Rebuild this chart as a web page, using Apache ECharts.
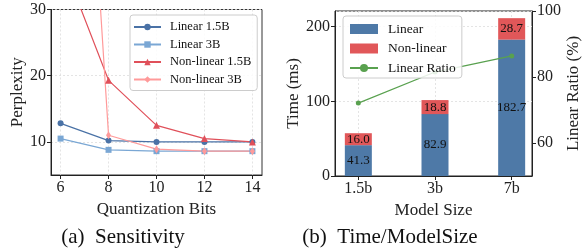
<!DOCTYPE html>
<html>
<head>
<meta charset="utf-8">
<script src="https://cdn.jsdelivr.net/npm/echarts@6/dist/echarts.min.js"></script>
<style>html,body{margin:0;padding:0;background:#fff}</style>
</head>
<body>
<div id="main" style="width:587px;height:252px"></div>
<script>
// (a) sensitivity
var bits = [6, 8, 10, 12, 14];
var linear15 = [12.8, 10.2, 10.0, 10.0, 10.0];
var linear3 = [10.5, 8.8, 8.6, 8.6, 8.6];
var nonlinear15 = [38.0, 19.3, 12.5, 10.5, 10.0];
var nonlinear3 = [125.0, 11.0, 8.9, 8.6, 8.6];
var pplTicks = [10, 20, 30];

// (b) time / model size
var sizes = ['1.5b', '3b', '7b'];
var linearTime = [41.3, 82.9, 182.7];
var nonlinearTime = [16.0, 18.8, 28.7];
var linearRatio = [72.1, 81.5, 86.4];
var ratioTicks = [60, 80, 100];

var serif = 'Liberation Serif';

function zip(xs, ys) {
    return ys.map(function (v, i) { return [xs[i], v]; });
}
var idx = sizes.map(function (s, i) { return i; });

var chartDom = document.getElementById('main');
var myChart = echarts.init(chartDom);

var axisCommon = {
    axisLine: { show: true, onZero: false, lineStyle: { color: '#222', width: 1 } },
    axisTick: { show: true, inside: false, length: 4, lineStyle: { color: '#222' } },
    axisLabel: { fontFamily: serif, fontSize: 16, color: '#222' },
    nameTextStyle: { fontFamily: serif, fontSize: 17, color: '#222' },
    splitLine: { show: true, lineStyle: { color: '#ddd', type: [2, 2], width: 0.8 } }
};
function ax(o) {
    return echarts.util.merge(echarts.util.clone(axisCommon), o, true);
}

var option = {
    animation: false,
    grid: [
        { left: 51, top: 9.5, width: 211, height: 165.5, show: true, borderColor: '#333', borderWidth: 1 },
        { left: 335, top: 11, width: 197, height: 165, show: true, borderColor: '#222', borderWidth: 1 },
        // hidden grid holding the stacked bars (category bands)
        { left: 320, top: 11, width: 230, height: 165 }
    ],
    xAxis: [
        ax({
            type: 'value', gridIndex: 0, min: 5.6, max: 14.4,
            name: 'Quantization Bits', nameLocation: 'middle', nameGap: 15,
            axisLabel: { customValues: bits, margin: 5 },
            axisTick: { customValues: bits }
        }),
        ax({
            type: 'value', gridIndex: 1, min: -0.304, max: 2.264,
            name: 'Model Size', nameLocation: 'middle', nameGap: 18,
            axisLabel: { customValues: idx, margin: 5, formatter: function (v) { return sizes[Math.round(v)]; } },
            axisTick: { customValues: idx }
        }),
        { type: 'category', gridIndex: 2, data: sizes, show: false }
    ],
    yAxis: [
        ax({
            type: 'value', gridIndex: 0, min: 5, max: 30,
            name: 'Perplexity', nameLocation: 'middle', nameGap: 25,
            axisLabel: { customValues: pplTicks, margin: 5 },
            axisTick: { customValues: pplTicks }
        }),
        ax({
            type: 'value', gridIndex: 1, min: 0, max: 221, interval: 100,
            name: 'Time (ms)', nameLocation: 'middle', nameGap: 31,
            axisLabel: { margin: 5, showMaxLabel: false }
        }),
        ax({
            type: 'value', gridIndex: 1, position: 'right', min: 50, max: 100,
            name: 'Linear Ratio (%)', nameLocation: 'middle', nameGap: 32,
            axisLabel: { customValues: ratioTicks, margin: 5 },
            axisTick: { customValues: ratioTicks },
            splitLine: { show: false }
        }),
        { type: 'value', gridIndex: 2, min: 0, max: 221, show: false }
    ],
    legend: [
        {
            left: 130, top: 15, orient: 'vertical',
            padding: [5, 6, 4, 3], itemGap: 3.5, itemWidth: 27, itemHeight: 8,
            backgroundColor: 'rgba(255,255,255,0.85)', borderColor: '#ccc', borderWidth: 1, borderRadius: 3,
            textStyle: { fontFamily: serif, fontSize: 12.5, color: '#111', lineHeight: 14, padding: [0, 0, 0, 4] },
            data: ['Linear 1.5B', 'Linear 3B', 'Non-linear 1.5B', 'Non-linear 3B']
        },
        {
            left: 343, top: 16, orient: 'vertical',
            padding: [6, 6, 3, 6], itemGap: 5.5, itemWidth: 28, itemHeight: 10,
            backgroundColor: 'rgba(255,255,255,0.85)', borderColor: '#ccc', borderWidth: 1, borderRadius: 3,
            textStyle: { fontFamily: serif, fontSize: 13.5, color: '#111', lineHeight: 14, padding: [0, 0, 0, 5] },
            data: [{ name: 'Linear', icon: 'rect' }, { name: 'Non-linear', icon: 'rect' }, 'Linear Ratio']
        }
    ],
    graphic: [
        { type: 'text', x: 123, y: 237, style: { text: '(a)  Sensitivity', font: '21px "Liberation Serif"', fill: '#111', textAlign: 'center', textVerticalAlign: 'middle' } },
        { type: 'text', x: 390, y: 237, style: { text: '(b)  Time/ModelSize', font: '21px "Liberation Serif"', fill: '#111', textAlign: 'center', textVerticalAlign: 'middle' } }
    ],
    series: [
        {
            name: 'Linear 1.5B', type: 'line', xAxisIndex: 0, yAxisIndex: 0,
            data: zip(bits, linear15), symbol: 'circle', symbolSize: 6,
            color: '#4a72a6', lineStyle: { width: 1.2 }
        },
        {
            name: 'Linear 3B', type: 'line', xAxisIndex: 0, yAxisIndex: 0,
            data: zip(bits, linear3), symbol: 'rect', symbolSize: 6,
            color: '#7aa7d4', lineStyle: { width: 1.2 }
        },
        {
            name: 'Non-linear 1.5B', type: 'line', xAxisIndex: 0, yAxisIndex: 0,
            data: zip(bits, nonlinear15), symbol: 'triangle', symbolSize: 7,
            color: '#e0505a', lineStyle: { width: 1.2 }
        },
        {
            name: 'Non-linear 3B', type: 'line', xAxisIndex: 0, yAxisIndex: 0,
            data: zip(bits, nonlinear3), symbol: 'diamond', symbolSize: [5, 8],
            color: '#ff9a9a', lineStyle: { width: 1.2 }
        },
        {
            name: 'Linear', type: 'bar', xAxisIndex: 2, yAxisIndex: 3, stack: 'time',
            data: linearTime, barWidth: 27, color: '#4e79a7',
            label: { show: true, position: 'inside', fontFamily: serif, fontSize: 13, color: '#111' }
        },
        {
            name: 'Non-linear', type: 'bar', xAxisIndex: 2, yAxisIndex: 3, stack: 'time',
            data: nonlinearTime, barWidth: 27, color: '#e15759',
            label: { show: true, position: 'inside', fontFamily: serif, fontSize: 13, color: '#111',
                formatter: function (p) { return p.value.toFixed(1); } }
        },
        {
            name: 'Linear Ratio', type: 'line', xAxisIndex: 1, yAxisIndex: 2,
            data: zip(idx, linearRatio), symbol: 'circle', symbolSize: 5,
            color: '#59a14f', lineStyle: { width: 1.2 }
        }
    ]
};

option && myChart.setOption(option);
</script>
</body>
</html>
